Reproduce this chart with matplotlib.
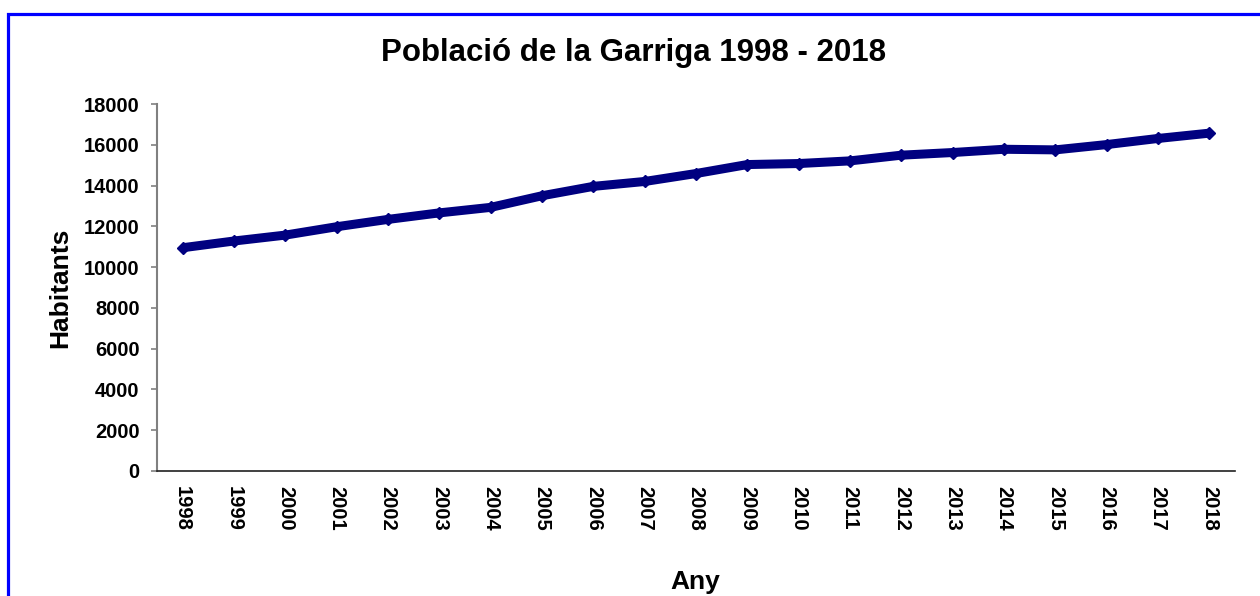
import matplotlib
matplotlib.use("Agg")
import matplotlib.pyplot as plt
from matplotlib.patches import Rectangle

# dades llegides del grafic
years = ["1998", "1999", "2000", "2001", "2002", "2003", "2004", "2005", "2006", "2007",
         "2008", "2009", "2010", "2011", "2012", "2013", "2014", "2015", "2016", "2017", "2018"]
habitants = [10950, 11280, 11570, 11980, 12340, 12660, 12930, 13500, 13960, 14200,
             14590, 15030, 15080, 15210, 15490, 15620, 15780, 15750, 16010, 16310, 16570]
yticks = [0, 2000, 4000, 6000, 8000, 10000, 12000, 14000, 16000, 18000]

plt.rcParams['font.family'] = ['Liberation Sans', 'DejaVu Sans']
plt.rcParams['font.weight'] = 'bold'

fig = plt.figure(figsize=(12.6, 5.96), dpi=100)
ax = fig.add_axes([157 / 1260, 1 - 471 / 596, (1235 - 157) / 1260, (471 - 104) / 596])

x = list(range(len(years)))
ax.plot(x, habitants, color='#000080', lw=6.5, marker='D', ms=6.5,
        solid_joinstyle='round', solid_capstyle='butt')

ax.set_xlim(-0.5, len(years) - 0.5)
ax.set_ylim(0, 18000)
ax.set_yticks(yticks)
ax.set_yticklabels([str(v) for v in yticks], fontsize=14.5, fontweight='bold')
ax.set_xticks(x)
ax.set_xticklabels(years, rotation=-90, fontsize=14.5, fontweight='bold')

ax.tick_params(axis='y', length=4.5, width=1.2, color='#808080', pad=8)
ax.tick_params(axis='x', length=0, pad=11)

for s in ['top', 'right']:
    ax.spines[s].set_visible(False)
ax.spines['left'].set_color('#808080')
ax.spines['left'].set_linewidth(1.5)
ax.spines['bottom'].set_color('#202020')
ax.spines['bottom'].set_linewidth(1.2)

# etiquetes dels eixos
fig.text(695 / 1260, 1 - 582 / 596, 'Any', ha='center', va='center',
         fontsize=19, fontweight='bold')
fig.text(60 / 1260, 1 - 288 / 596, 'Habitants', ha='center', va='center',
         rotation=90, fontsize=19, fontweight='bold')

fig.text(634 / 1260, 1 - 53 / 596, 'Població de la Garriga 1998 - 2018',
         ha='center', va='center', fontsize=22.5, fontweight='bold')

# vora blava (retallada a la dreta i a baix)
fig.patches.append(Rectangle((7.5 / 1260, -0.1), 1.2, 1 - 13.5 / 596 + 0.1,
                             transform=fig.transFigure, fill=False,
                             edgecolor='#0000FF', lw=2.3))

fig.savefig('out.png', dpi=100)
